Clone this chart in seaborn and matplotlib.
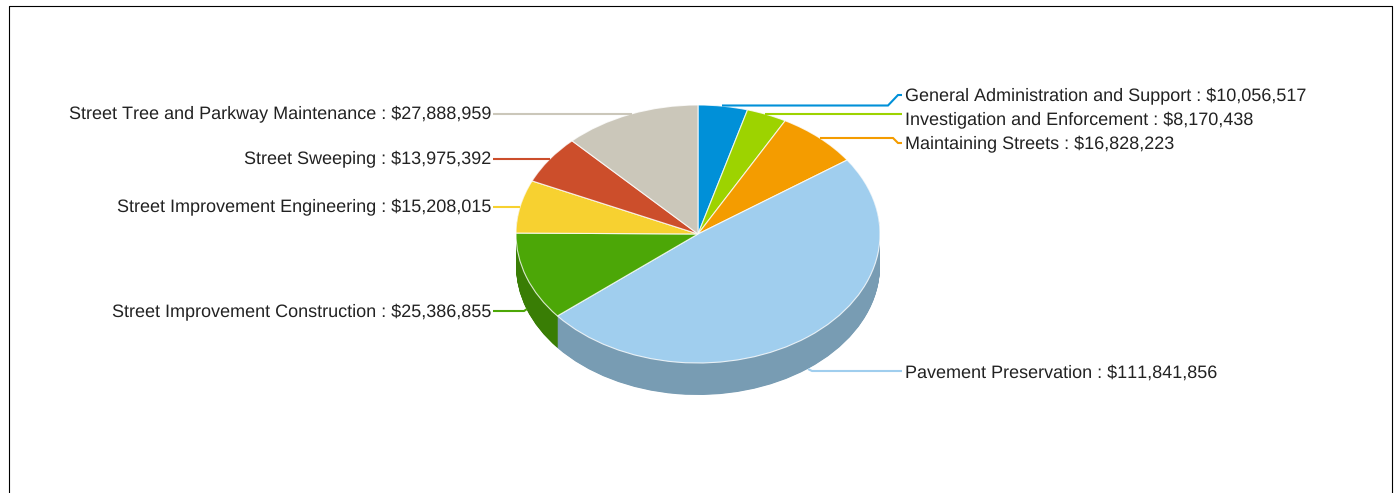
import matplotlib
matplotlib.use("Agg")
import matplotlib.pyplot as plt
import seaborn as sns

categories = ["General Administration and Support", "Investigation and Enforcement",
              "Maintaining Streets", "Pavement Preservation",
              "Street Improvement Construction", "Street Improvement Engineering",
              "Street Sweeping", "Street Tree and Parkway Maintenance"]
amounts = [10056517, 8170438, 16828223, 111841856, 25386855, 15208015, 13975392, 27888959]
top_colors = ["#0090D8", "#9DD300", "#F49C00", "#A0CEEE", "#4CA707", "#F7D130", "#CC4E2B", "#CBC7BA"]
side_colors = ["#006CA2", "#769E00", "#B77500", "#789CB3", "#397D05", "#B99D24", "#993A20", "#98958B"]

sns.set_theme(style="white")
plt.rcParams["font.family"] = ["Liberation Sans", "DejaVu Sans"]
plt.rcParams["text.kerning_factor"] = 6
plt.rcParams["text.hinting"] = "no_hinting"

W, H = 1395, 493
CX, CY, RX, RY, DEPTH = 698, 234, 182, 129, 32

fig = plt.figure(figsize=(W / 100, H / 100), dpi=100, facecolor="white")
ax = fig.add_axes([0, 0, 1, 1])

# side wall: the same pie stacked downward, half a pixel at a time
for k in range(2 * DEPTH, 0, -1):
    ax.pie(amounts, colors=sns.color_palette(side_colors), startangle=90, counterclock=False,
           center=(0, -k / 2 / RY), radius=1, wedgeprops=dict(linewidth=0))
# top face
ax.pie(amounts, colors=sns.color_palette(top_colors), startangle=90, counterclock=False,
       center=(0, 0), radius=1, wedgeprops=dict(linewidth=0.8, edgecolor="#FFFFFFCC"))
ax.set_aspect("auto")
ax.set_xlim(-CX / RX, (W - CX) / RX)
ax.set_ylim((CY - H) / RY, CY / RY)
ax.axis("off")

ov = fig.add_axes([0, 0, 1, 1], facecolor="none")
ov.set_xlim(0, W)
ov.set_ylim(H, 0)
ov.axis("off")

leaders = [
    ([722, 888, 898, 902], [105.5, 105.5, 95, 95]),
    ([765, 902], [114, 114]),
    ([820, 893, 898, 902], [138, 138, 143, 143]),
    ([808, 812, 902], [369, 371, 371]),
    ([527, 524, 493], [309, 311, 311]),
    ([520, 493], [206.5, 206.5]),
    ([550, 493], [158.5, 158.5]),
    ([632, 493], [114, 114]),
]
label_pos = [(905, 95, "left"), (905, 119, "left"), (905, 143, "left"), (905, 371, "left"),
             (491, 311, "right"), (491, 206, "right"), (491, 158, "right"), (491, 113, "right")]

for name, val, col, (xs, ys), (tx, ty, ha) in zip(categories, amounts, top_colors, leaders, label_pos):
    ov.plot(xs, ys, color=col, lw=1.5, solid_joinstyle="miter", solid_capstyle="butt")
    ov.text(tx, ty, f"{name} : ${val:,}", ha=ha, va="center_baseline", fontsize=13, color="#222222")

# page border
ov.plot([8.5, 8.5, 1391.5, 1391.5], [H, 5.5, 5.5, H], color="black", lw=0.8, clip_on=False)

fig.savefig("out.png", dpi=100, facecolor="white")
